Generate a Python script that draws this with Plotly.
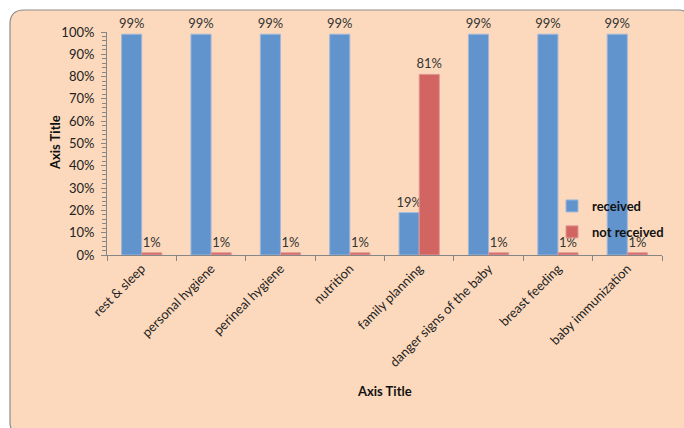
import plotly.graph_objects as go

categories = ["rest & sleep", "personal hygiene", "perineal hygiene", "nutrition",
              "family planning", "danger signs of the baby", "breast feeding", "baby immunization"]
received = [99, 99, 99, 99, 19, 99, 99, 99]
not_received = [1, 1, 1, 1, 81, 1, 1, 1]
series_names = ["received", "not received"]
axis_title = "Axis Title"

W, H = 684, 428
L, R, T, B = 107, 22, 32, 173
pw, ph = W - L - R, H - T - B

def px(x):
    return (x - L) / pw

def py(y):
    return (H - B - y) / ph

FONT = "Lato"
blue = "#6194CD"
red = "#D26461"
peach = "#FCD9BC"

fig = go.Figure()
fig.add_trace(go.Bar(x=categories, y=received, name=series_names[0], marker_color=blue,
                     marker_line=dict(color="#9DB8DC", width=1),
                     text=[f"{v}%" for v in received], textposition="outside",
                     constraintext="none",
                     textfont=dict(family=FONT, size=13, color="#333333"),
                     cliponaxis=False, legendgroup="a"))
fig.add_trace(go.Bar(x=categories, y=not_received, name=series_names[1], marker_color=red,
                     marker_line=dict(color="#E09896", width=1),
                     text=[f"{v}%" for v in not_received], textposition="outside",
                     constraintext="none",
                     textfont=dict(family=FONT, size=13, color="#333333"),
                     cliponaxis=False, legendgroup="b"))

# rounded background
x0, y0, x1, y1, r = 10, 10, 692, 436, 14
path = (f"M {px(x0+r)},{py(y0)} L {px(x1-r)},{py(y0)} Q {px(x1)},{py(y0)} {px(x1)},{py(y0+r)} "
        f"L {px(x1)},{py(y1-r)} Q {px(x1)},{py(y1)} {px(x1-r)},{py(y1)} "
        f"L {px(x0+r)},{py(y1)} Q {px(x0)},{py(y1)} {px(x0)},{py(y1-r)} "
        f"L {px(x0)},{py(y0+r)} Q {px(x0)},{py(y0)} {px(x0+r)},{py(y0)} Z")
fig.add_shape(type="path", path=path, xref="paper", yref="paper",
              fillcolor=peach, line=dict(color="#8C8C8C", width=1.2), layer="below")

fig.add_annotation(text=f"<b>{axis_title}</b>", x=px(45), y=py(143), xref="paper", yref="paper",
                   textangle=-90, showarrow=False, font=dict(family=FONT, size=13, color="#111111"))
fig.add_annotation(text=f"<b>{axis_title}</b>", x=px(384), y=py(401), xref="paper", yref="paper",
                   showarrow=False, font=dict(family=FONT, size=13, color="#111111"))

axis_col = "#868686"
fig.update_layout(
    width=W, height=H,
    margin=dict(l=L, r=R, t=T, b=B, pad=0),
    paper_bgcolor="white", plot_bgcolor="rgba(0,0,0,0)",
    barmode="group", bargap=0.42, bargroupgap=0,
    font=dict(family=FONT, size=13, color="#222222"),
    showlegend=True,
    legend=dict(x=px(552), y=py(191), xanchor="left", yanchor="top", borderwidth=0,
                bgcolor="rgba(0,0,0,0)", font=dict(family=FONT, size=13, color="#111111", weight="bold"),
                traceorder="grouped", tracegroupgap=6, itemwidth=30),
    xaxis=dict(showline=True, linecolor=axis_col, linewidth=1, ticks="outside", ticklen=5,
               tickcolor=axis_col, tickson="boundaries", tickangle=-45, automargin=False,
               tickfont=dict(family=FONT, size=13, color="#222222"),
               showgrid=False, zeroline=False),
    yaxis=dict(range=[0, 100], dtick=10, ticksuffix="%", showline=True, linecolor=axis_col,
               linewidth=1, ticks="outside", ticklen=5, tickcolor=axis_col, automargin=False,
               ticklabelstandoff=4,
               minor=dict(dtick=2, ticks="outside", ticklen=4, tickcolor=axis_col),
               tickfont=dict(family=FONT, size=13, color="#222222"),
               showgrid=False, zeroline=False),
)
fig.write_html("out.html", config={"displayModeBar": False},
               post_script="document.body.style.margin='0';document.body.style.overflow='hidden';")
